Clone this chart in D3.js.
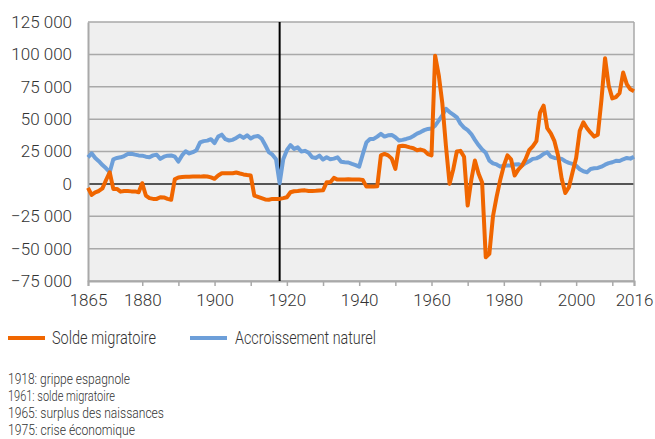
<!DOCTYPE html>
<html><head><meta charset="utf-8">
<script src="https://cdn.jsdelivr.net/npm/d3@7"></script>
<style>
html,body{margin:0;padding:0;background:#fff;}
svg{display:block;font-family:Roboto,"Noto Sans",sans-serif;font-weight:300;}
</style></head>
<body><svg id="c" width="655" height="439"></svg>
<script>
const startYear = 1865;
const endYear = 2016;
const soldeMigratoire = [
 -3100,-8500,-6500,-5500,-3500,3000,9000,-3900,-3900,-6000,
 -5500,-5500,-5800,-5800,-6500,500,-9000,-11000,-11600,-11600,
 -10300,-10500,-11600,-12300,3500,5000,5300,5500,5500,5600,
 5600,5600,5800,5700,5000,3900,6500,8200,8200,8200,
 8200,8800,8000,7300,6800,6400,-9000,-10000,-11000,-12000,
 -12300,-11600,-11600,-11600,-11000,-10300,-6500,-5700,-5500,-5200,
 -5000,-5500,-5500,-5400,-5200,-5000,1200,1200,4600,3300,
 3300,3300,3500,3300,3300,3300,3000,-2100,-2100,-2100,
 -1800,22000,23100,22000,19500,11600,29000,29500,29000,28200,
 27500,26000,26500,25700,23000,22000,99000,84000,62000,29000,
 0,11000,25000,25500,21000,-16700,3000,18000,8000,1000,
 -56600,-54000,-25000,-10000,3000,14000,22000,19000,6400,11000,
 14000,19000,26000,29000,33000,55000,60400,43000,39000,33000,
 22000,4000,-7000,-2600,9000,20000,41000,47500,43000,39500,
 36500,38000,65000,97000,76000,66000,67000,70000,86000,77000,
 73000,71500
];
const accroissementNaturel = [
 20500,23600,20000,17500,14500,12000,9000,19000,20000,20500,
 21500,23000,23300,22600,22000,21800,21000,20500,22000,22500,
 19300,21000,21800,22000,21000,17200,22000,25200,23500,24500,
 26000,32000,33000,33400,34500,31500,36500,38000,34500,33500,
 34000,35500,37300,35500,37500,35000,36500,37000,35000,30000,
 24500,22500,19000,500,19000,26000,30000,27000,28200,25000,
 25500,24000,20500,20000,21800,18800,20500,19000,19500,20500,
 17000,16700,16500,15400,14500,13300,23000,32000,34700,34700,
 36500,38600,36500,37500,37800,36000,33500,34000,34700,35500,
 37000,38800,40000,41500,42400,42800,45000,48800,53000,58000,
 55500,53500,51400,46500,43500,41500,38500,34000,30000,26500,
 24000,18000,15800,15000,13300,14000,14100,14100,15000,15200,
 14100,16000,17500,19300,19700,21000,23100,24400,21000,20000,
 19800,19300,17500,16200,15400,14000,11300,9700,9000,11500,
 12000,12300,13300,14800,16000,16700,17800,17600,19000,20000,
 19500,21000
];
const years = d3.range(startYear, endYear + 1);
const yTicks = [-75000,-50000,-25000,0,25000,50000,75000,100000,125000];
const xTickMarks = [1865,1880,1890,1900,1910,1920,1930,1940,1950,1960,1970,1980,1990,2000,2010,2016];
const xTickLabels = [1865,1880,1900,1920,1940,1960,1980,2000,2016];
const markerYear = 1918;
const seriesNames = ["Solde migratoire","Accroissement naturel"];
const seriesColors = ["#f06600","#6d9fd9"];
const notes = ["1918: grippe espagnole","1961: solde migratoire","1965: surplus des naissances","1975: crise économique"];

const svg = d3.select("#c");
const L = 88, R = 634, T = 22, B = 281;
const x = d3.scaleLinear().domain([startYear, endYear]).range([L, R]);
const y = d3.scaleLinear().domain([-75000, 125000]).range([B, T]);
const fmt = v => d3.format(",")(v).replace(/,/g, " ").replace("-", "\u2212");

svg.append("rect").attr("x", L).attr("y", T).attr("width", R - L).attr("height", B - T).attr("fill", "#efefef");

// grid
svg.append("g").selectAll("line").data(yTicks).join("line")
  .attr("x1", L).attr("x2", R).attr("y1", d => y(d)).attr("y2", d => y(d))
  .attr("stroke", d => d === 0 ? "#555" : "#a9a9a9").attr("stroke-width", d => d === 0 ? 2 : 1.5);
// right border
svg.append("line").attr("x1", R).attr("x2", R).attr("y1", T).attr("y2", B).attr("stroke", "#a9a9a9").attr("stroke-width", 1.5);

// y axis
const yAxis = d3.axisLeft(y).tickValues(yTicks).tickFormat(fmt).tickSize(0).tickPadding(16);
const gy = svg.append("g").attr("transform", `translate(${L},0)`).call(yAxis);
gy.select(".domain").attr("stroke", "#a9a9a9").attr("stroke-width", 2);
gy.selectAll("text").attr("font-size", 17).attr("fill", "#333").attr("font-family", "Roboto").attr("font-weight", 300);

// x axis
const xAxis = d3.axisBottom(x).tickValues(xTickMarks).tickSize(5).tickFormat(d => xTickLabels.includes(d) ? d : "").tickPadding(8);
const gx = svg.append("g").attr("transform", `translate(0,${B})`).call(xAxis);
gx.select(".domain").attr("stroke", "#a9a9a9").attr("stroke-width", 2);
gx.selectAll(".tick line").attr("stroke", "#a9a9a9").attr("stroke-width", 1.5);
gx.selectAll("text").attr("font-size", 17).attr("fill", "#333").attr("font-family", "Roboto").attr("font-weight", 300);

// 1918 marker
svg.append("line").attr("x1", x(markerYear)).attr("x2", x(markerYear)).attr("y1", T).attr("y2", B)
  .attr("stroke", "#000").attr("stroke-width", 2);

const line = d3.line().x((d, i) => x(years[i])).y(d => y(d));
svg.append("path").datum(accroissementNaturel).attr("d", line).attr("fill", "none")
  .attr("stroke", seriesColors[1]).attr("stroke-width", 4).attr("stroke-linejoin", "round");
svg.append("path").datum(soldeMigratoire).attr("d", line).attr("fill", "none")
  .attr("stroke", seriesColors[0]).attr("stroke-width", 4).attr("stroke-linejoin", "round");

// legend
const leg = [{x: 8, tx: 52, w: 104}, {x: 190, tx: 235, w: 141}];
seriesNames.forEach((n, i) => {
  svg.append("line").attr("x1", leg[i].x).attr("x2", leg[i].x + 37).attr("y1", 338).attr("y2", 338)
    .attr("stroke", seriesColors[i]).attr("stroke-width", 4);
  svg.append("text").attr("x", leg[i].tx).attr("y", 344).text(n)
    .attr("font-size", 18).attr("fill", "#333")
    .attr("textLength", leg[i].w).attr("lengthAdjust", "spacingAndGlyphs");
});

// notes
const noteW = [122, 107, 156, 127];
svg.append("g").selectAll("text").data(notes).join("text")
  .attr("x", 8).attr("y", (d, i) => 384 + i * 17).text(d => d)
  .attr("font-size", 14).attr("fill", "#333")
  .attr("textLength", (d, i) => noteW[i]).attr("lengthAdjust", "spacingAndGlyphs");
</script></body></html>
